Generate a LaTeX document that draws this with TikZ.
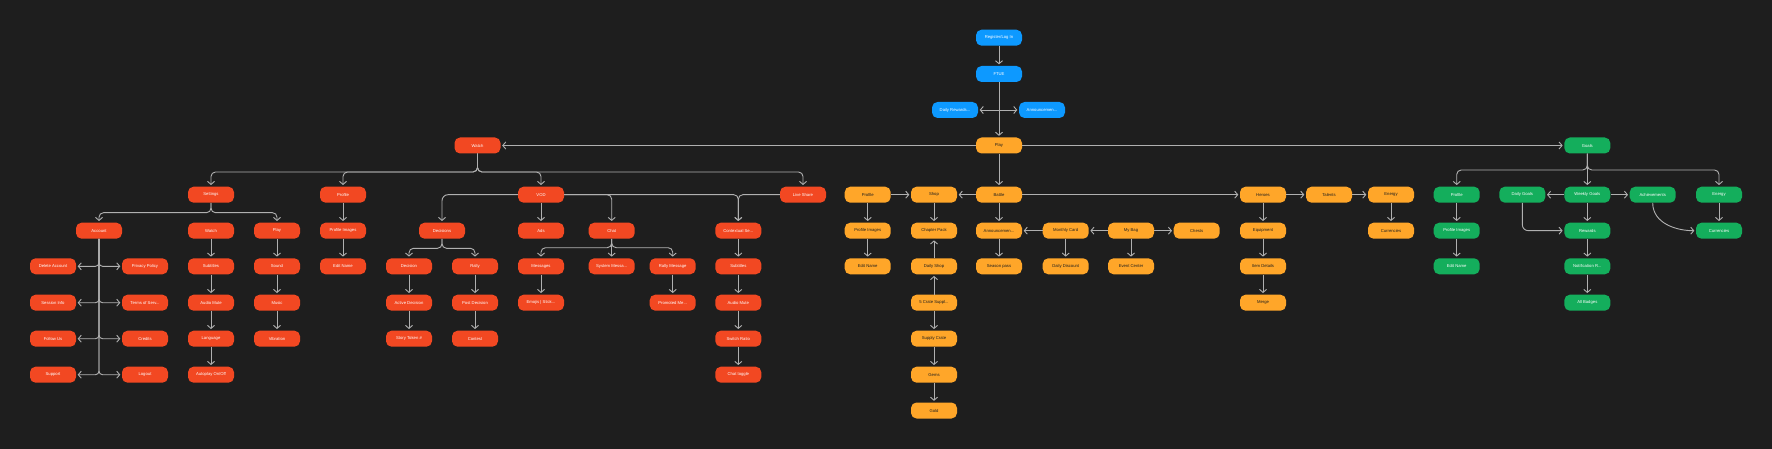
\documentclass[tikz,border=0pt]{standalone}
\usepackage{fontspec}
\setmainfont{Liberation Sans}
\usetikzlibrary{arrows.meta}
\definecolor{bg}{HTML}{1E1E1E}
\definecolor{ln}{HTML}{B0B0B0}
\definecolor{cblue}{HTML}{0D99FF}
\definecolor{cred}{HTML}{F24822}
\definecolor{corange}{HTML}{FFA629}
\definecolor{cgreen}{HTML}{14AE5C}
\tikzset{
  box/.style={rounded corners=5.5pt, minimum width=46pt, minimum height=16pt, inner sep=0pt, font=\fontsize{4.2}{5}\selectfont},
  bb/.style={box, fill=cblue, text=white},
  rb/.style={box, fill=cred, text=white},
  ob/.style={box, fill=corange, text=bg},
  gb/.style={box, fill=cgreen, text=white},
  conn/.style={draw=ln, line width=0.9pt, shorten >=1.5pt, -{Straight Barb[length=3pt,width=7pt,line width=0.9pt]}},
  bus/.style={conn, rounded corners=4.5pt},
}
\begin{document}
\begin{tikzpicture}[x=1pt,y=-1pt]
\fill[bg] (0,0) rectangle (1772,449);
\useasboundingbox (0,0) rectangle (1772,449);
% rows
\def\ra{37.7}\def\rb{74}\def\rc{110}\def\rd{145.5}\def\re{194.7}\def\rf{230.7}\def\rg{266.3}\def\rh{302.7}\def\ri{338.7}\def\rj{374.7}\def\rk{410.5}
% top
\node[bb] (reg) at (999,\ra) {Register/Log In};
\node[bb] (ftue) at (999,\rb) {FTUE};
\node[bb] (drew) at (955,\rc) {Daily Rewards...};
\node[bb] (bann) at (1042,\rc) {Announcemen...};
\node[ob] (play) at (999,\rd) {Play};
\node[rb] (watch) at (477.5,\rd) {Watch};
\node[gb] (goals) at (1587.3,\rd) {Goals};
% watch branch
\node[rb] (settings) at (211,\re) {Settings};
\node[rb] (wprof) at (343,\re) {Profile};
\node[rb] (vod) at (541,\re) {VOD};
\node[rb] (live) at (803,\re) {Live Share};
% settings
\node[rb] (account) at (99,\rf) {Account};
\node[rb] (swatch) at (211,\rf) {Watch};
\node[rb] (splay) at (277,\rf) {Play};
\node[rb] (del) at (53,\rg) {Delete Account};
\node[rb] (sess) at (53,\rh) {Session Info};
\node[rb] (follow) at (53,\ri) {Follow Us};
\node[rb] (support) at (53,\rj) {Support};
\node[rb] (priv) at (145,\rg) {Privacy Policy};
\node[rb] (terms) at (145,\rh) {Terms of Serv...};
\node[rb] (credits) at (145,\ri) {Credits};
\node[rb] (logout) at (145,\rj) {Logout};
\node[rb] (ssub) at (211,\rg) {Subtitles};
\node[rb] (smute) at (211,\rh) {Audio Mute};
\node[rb] (slang) at (211,\ri) {Language};
\node[rb] (sauto) at (211,\rj) {Autoplay On/Off};
\node[rb] (sound) at (277,\rg) {Sound};
\node[rb] (music) at (277,\rh) {Music};
\node[rb] (vib) at (277,\ri) {Vibration};
% watch profile
\node[rb] (wpimg) at (343,\rf) {Profile Images};
\node[rb] (wpname) at (343,\rg) {Edit Name};
% decisions
\node[rb] (decs) at (442,\rf) {Decisions};
\node[rb] (dec) at (409,\rg) {Decision};
\node[rb] (rally) at (475,\rg) {Rally};
\node[rb] (actd) at (409,\rh) {Active Decision};
\node[rb] (story) at (409,\ri) {Story Token \#};
\node[rb] (postd) at (475,\rh) {Post Decision};
\node[rb] (contest) at (475,\ri) {Contest};
% vod
\node[rb] (ads) at (541,\rf) {Ads};
\node[rb] (chat) at (611.7,\rf) {Chat};
\node[rb] (msgs) at (541,\rg) {Messages};
\node[rb] (sysm) at (611.7,\rg) {System Messa...};
\node[rb] (rallym) at (672.7,\rg) {Rally Message};
\node[rb] (emoji) at (541,\rh) {Emojis | Stick...};
\node[rb] (promo) at (672.7,\rh) {Promoted Me...};
\node[rb] (ctx) at (738.3,\rf) {Contextual Se...};
\node[rb] (csub) at (738.3,\rg) {Subtitles};
\node[rb] (cmute) at (738.3,\rh) {Audio Mute};
\node[rb] (cratio) at (738.3,\ri) {Switch Ratio};
\node[rb] (ctog) at (738.3,\rj) {Chat toggle};
% play branch
\node[ob] (pprof) at (867.7,\re) {Profile};
\node[ob] (shop) at (934,\re) {Shop};
\node[ob] (battle) at (999,\re) {Battle};
\node[ob] (ppimg) at (867.7,\rf) {Profile Images};
\node[ob] (ppname) at (867.7,\rg) {Edit Name};
\node[ob] (chap) at (934,\rf) {Chapter Pack};
\node[ob] (dshop) at (934,\rg) {Daily Shop};
\node[ob] (crate5) at (934,\rh) {5 Crate Suppl...};
\node[ob] (crate) at (934,\ri) {Supply Crate};
\node[ob] (gems) at (934,\rj) {Gems};
\node[ob] (gold) at (934,\rk) {Gold};
\node[ob] (oann) at (999,\rf) {Announcemen...};
\node[ob] (season) at (999,\rg) {Season pass};
\node[ob] (month) at (1065.7,\rf) {Monthly Card};
\node[ob] (ddisc) at (1065.7,\rg) {Daily Discount};
\node[ob] (bag) at (1131,\rf) {My Bag};
\node[ob] (event) at (1131,\rg) {Event Center};
\node[ob] (chests) at (1196.7,\rf) {Chests};
\node[ob] (heroes) at (1263,\re) {Heroes};
\node[ob] (equip) at (1263,\rf) {Equipment};
\node[ob] (item) at (1263,\rg) {Item Details};
\node[ob] (merge) at (1263,\rh) {Merge};
\node[ob] (talents) at (1329,\re) {Talents};
\node[ob] (energy) at (1391,\re) {Energy};
\node[ob] (curr) at (1391,\rf) {Currencies};
% goals branch
\node[gb] (gprof) at (1456.7,\re) {Profile};
\node[gb] (gpimg) at (1456.7,\rf) {Profile Images};
\node[gb] (gpname) at (1456.7,\rg) {Edit Name};
\node[gb] (dgoals) at (1522.3,\re) {Daily Goals};
\node[gb] (wgoals) at (1587.3,\re) {Weekly Goals};
\node[gb] (ach) at (1652.7,\re) {Achievements};
\node[gb] (genergy) at (1719,\re) {Energy};
\node[gb] (rewards) at (1587.3,\rf) {Rewards};
\node[gb] (notif) at (1587.3,\rg) {Notification R...};
\node[gb] (badges) at (1587.3,\rh) {All Badges};
\node[gb] (gcurr) at (1719,\rf) {Currencies};

% ===== connectors =====
\draw[conn] (reg) -- (ftue);
\draw[conn] (ftue) -- (play);
\draw[conn] (ftue.south |- drew.east) -- (drew.east);
\draw[conn] (ftue.south |- bann.west) -- (bann.west);
\draw[conn] (play) -- (watch);
\draw[conn] (play) -- (goals);
\draw[conn] (play) -- (battle);
% watch bus
\foreach \t in {settings,wprof,vod,live}
  \draw[bus] (watch.south) -- (watch.south |- 0,172) -| (\t.north);
% settings bus
\foreach \t in {account,splay}
  \draw[bus] (settings.south) -- (settings.south |- 0,212.7) -| (\t.north);
% account list
\foreach \t in {del,sess,follow,support}
  \draw[bus,rounded corners=3.5pt] (account.south) |- (\t.east);
\foreach \t in {priv,terms,credits,logout}
  \draw[bus,rounded corners=3.5pt] (account.south) |- (\t.west);
\draw[conn] (swatch) -- (ssub);
\draw[conn] (ssub) -- (smute);
\draw[conn] (smute) -- (slang);
\draw[conn] (slang) -- (sauto);
\draw[conn] (splay) -- (sound);
\draw[conn] (sound) -- (music);
\draw[conn] (music) -- (vib);
\draw[conn] (wprof) -- (wpimg);
\draw[conn] (wpimg) -- (wpname);
% VOD
\draw[bus,rounded corners=6pt] (vod.west) -| (decs.north);
\foreach \t in {dec,rally}
  \draw[bus] (decs.south) -- (decs.south |- 0,248.3) -| (\t.north);
\draw[conn] (dec) -- (actd);
\draw[conn] (actd) -- (story);
\draw[conn] (rally) -- (postd);
\draw[conn] (postd) -- (contest);
\draw[conn] (vod) -- (ads);
\draw[bus] (vod.east) -| (chat.north);
\draw[bus] (vod.east) -| (ctx.north);
\draw[bus] (live.west) -| (ctx.north);
\foreach \t in {msgs,sysm,rallym}
  \draw[bus] (chat.south) -- (chat.south |- 0,247.7) -| (\t.north);
\draw[conn] (msgs) -- (emoji);
\draw[conn] (rallym) -- (promo);
\draw[conn] (ctx) -- (csub);
\draw[conn] (csub) -- (cmute);
\draw[conn] (cmute) -- (cratio);
\draw[conn] (cratio) -- (ctog);
% play branch
\draw[conn] (battle) -- (shop);
\draw[conn] (pprof) -- (shop);
\draw[conn] (battle) -- (heroes);
\draw[conn] (pprof) -- (ppimg);
\draw[conn] (ppimg) -- (ppname);
\draw[conn] (shop) -- (chap);
\draw[conn] (dshop) -- (chap);
\draw[conn] (crate5) -- (dshop);
\draw[conn] (crate5) -- (crate);
\draw[conn] (crate) -- (gems);
\draw[conn] (gems) -- (gold);
\draw[conn] (battle) -- (oann);
\draw[conn] (oann) -- (season);
\draw[conn] (month) -- (oann);
\draw[conn] (month) -- (ddisc);
\draw[conn] (bag) -- (month);
\draw[conn] (bag) -- (chests);
\draw[conn] (bag) -- (event);
\draw[conn] (heroes) -- (talents);
\draw[conn] (talents) -- (energy);
\draw[conn] (energy) -- (curr);
\draw[conn] (heroes) -- (equip);
\draw[conn] (equip) -- (item);
\draw[conn] (item) -- (merge);
% goals
\foreach \t in {gprof,genergy}
  \draw[bus] (goals.south) -- (goals.south |- 0,170) -| (\t.north);
\draw[conn] (goals) -- (wgoals);
\draw[conn] (wgoals) -- (dgoals);
\draw[conn] (wgoals) -- (ach);
\draw[conn] (wgoals) -- (rewards);
\draw[conn] (rewards) -- (notif);
\draw[conn] (notif) -- (badges);
\draw[conn] (genergy) -- (gcurr);
\draw[conn] (gprof) -- (gpimg);
\draw[conn] (gpimg) -- (gpname);
\draw[bus,rounded corners=6pt] (dgoals.south) |- (rewards.west);
\draw[conn] (ach.south) to[out=-90,in=180] (gcurr.west);
\end{tikzpicture}
\end{document}
